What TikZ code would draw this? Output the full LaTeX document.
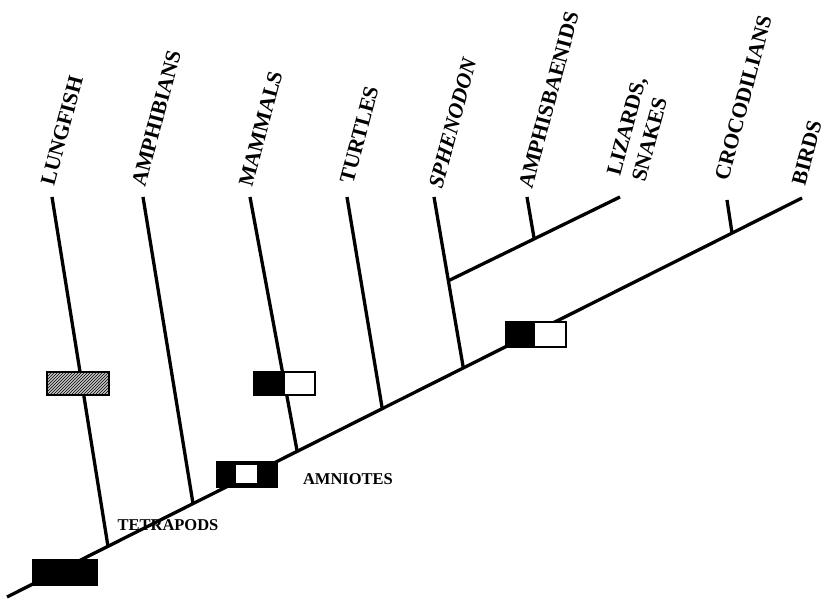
\documentclass[tikz,border=0pt]{standalone}
\usepackage{fontspec}
\setmainfont{Liberation Serif}
\usetikzlibrary{patterns,calc}
\begin{document}
\begin{tikzpicture}[x=1pt,y=1pt,
  branch/.style={line width=3.3pt},
  taxon/.style={font=\bfseries\fontsize{21.5}{24.5}\selectfont, rotate=75, anchor=base west, inner sep=0pt},
  clade/.style={font=\bfseries\fontsize{16.5}{18}\selectfont, inner sep=0pt},
  charbox/.style={draw=black, line width=1.5pt}]
\useasboundingbox (0,0) rectangle (831,601);
% trunk
\coordinate (root) at (7,4);
\coordinate (birds) at (802,403);
\coordinate (jLung) at ($(root)!0.127!(birds)$);
\coordinate (jAmph) at ($(root)!0.234!(birds)$);
\coordinate (jMamm) at ($(root)!0.365!(birds)$);
\coordinate (jTurt) at ($(root)!0.472!(birds)$);
\coordinate (jSphe) at ($(root)!0.574!(birds)$);
\coordinate (jCroc) at ($(root)!0.912!(birds)$);
% tips
\coordinate (tLung) at (52,404);
\coordinate (tAmph) at (143,404);
\coordinate (tMamm) at (250,404);
\coordinate (tTurt) at (347,404);
\coordinate (tSphe) at (434,404);
\coordinate (tAmphis) at (527,404);
\coordinate (tLiz) at (620,404);
\coordinate (tCroc) at (727,401);
\coordinate (jLiz) at ($(tSphe)!0.49!(jSphe)$);
\coordinate (jAmphis) at ($(jLiz)!0.50!(tLiz)$);

\draw[branch] (root) -- (birds);
\draw[branch] (tLung) -- (jLung);
\draw[branch] (tAmph) -- (jAmph);
\draw[branch] (tMamm) -- (jMamm);
\draw[branch] (tTurt) -- (jTurt);
\draw[branch] (tSphe) -- (jSphe);
\draw[branch] (jLiz) -- (tLiz);
\draw[branch] (tAmphis) -- (jAmphis);
\draw[branch] (tCroc) -- (jCroc);

% character boxes
\filldraw[charbox, fill=gray!45] (47,206) rectangle (109,229);
\fill[pattern=north east lines, pattern color=black] (47,206) rectangle (109,229);
\draw[charbox] (47,206) rectangle (109,229);

\filldraw[charbox, fill=white] (254,206) rectangle (315,229);
\fill (254,206) rectangle (285,229);

\filldraw[charbox, fill=black] (217,114) rectangle (277,139);
\fill[white] (236,118) rectangle (257,136);

\filldraw[charbox, fill=black] (33,16) rectangle (97,41);

\filldraw[charbox, fill=white] (506,254) rectangle (566,279);
\fill (506,254) rectangle (535,279);

% labels
\node[taxon] (lLung) at (54,414) {LUNGFISH};
\node[taxon] (lAmph) at (145,413) {AMPHIBIANS};
\node[taxon] (lMamm) at (252,413) {MAMMALS};
\node[taxon] (lTurt) at (353,416) {TURTLES};
\node[taxon, font=\bfseries\itshape\fontsize{21.5}{24.5}\selectfont] (lSphe) at (442,411) {SPHENODON};
\node[taxon] (lAmphis) at (532,411) {AMPHISBAENIDS};
\node[taxon] (lLiz) at (620,424) {LIZARDS,};
\node[taxon] (lSnak) at (645,418) {SNAKES};
\node[taxon] (lCroc) at (728,419) {CROCODILIANS};
\node[taxon] (lBirds) at (805,414) {BIRDS};

\node[clade] (tetra) at (168,75.5) {TETRAPODS};
\node[clade] (amnio) at (348,122) {AMNIOTES};
\end{tikzpicture}
\end{document}
